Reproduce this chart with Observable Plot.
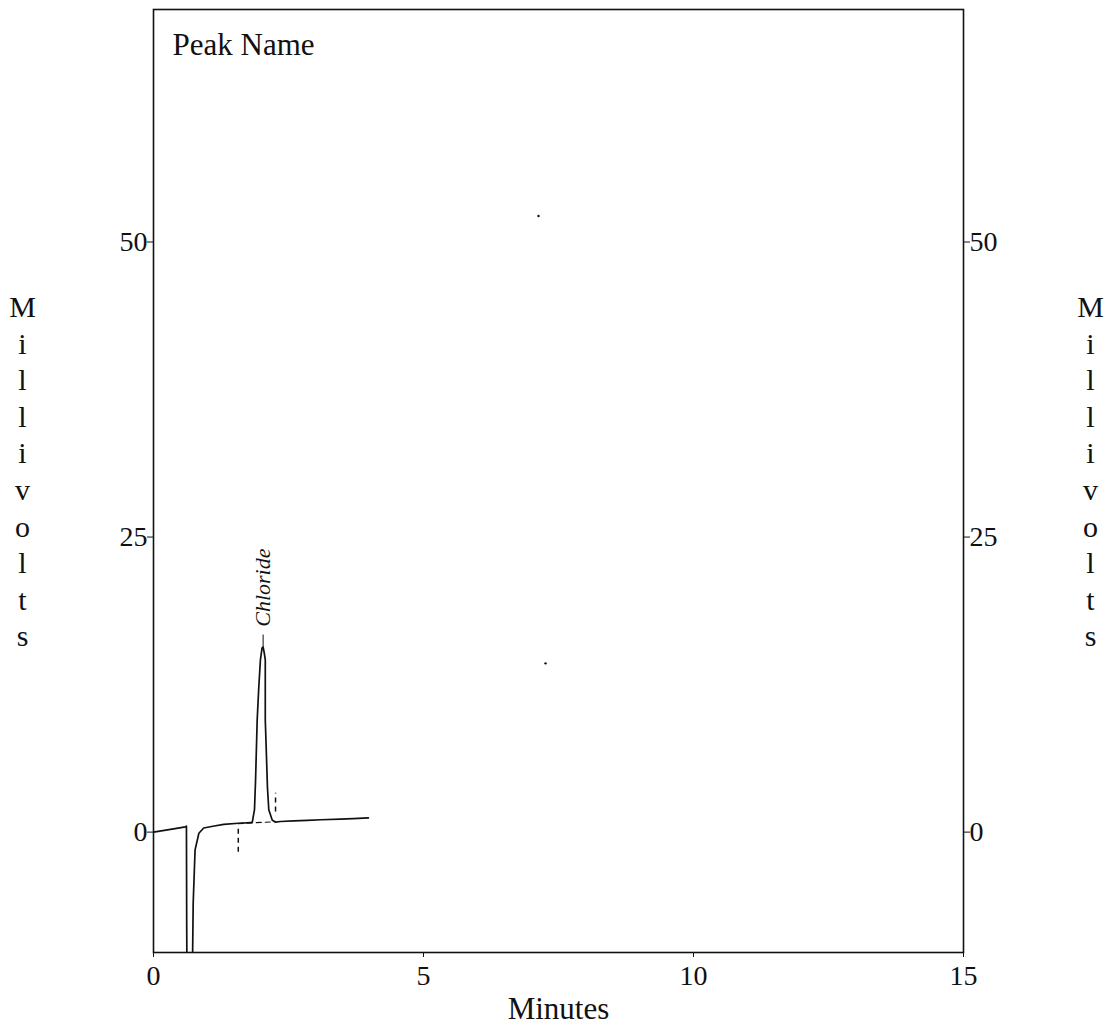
<!DOCTYPE html>
<html>
<head>
<meta charset="utf-8">
<script src="https://cdn.jsdelivr.net/npm/d3@7"></script>
<script src="https://cdn.jsdelivr.net/npm/@observablehq/plot@0.6"></script>
<style>
  html, body { margin: 0; padding: 0; background: #fff; }
  #chart svg { display: block; }
</style>
</head>
<body>
<div id="chart"></div>
<script>
// Chromatogram trace (minutes, millivolts)
const time = [0, 0.2, 0.4, 0.59, 0.61, 0.615, 0.64, 0.70, 0.72, 0.735, 0.77, 0.84, 0.93, 1.1, 1.3, 1.57, 1.8, 1.83, 1.87, 1.89, 1.92, 1.95, 1.98, 2.01, 2.03, 2.05, 2.07, 2.07, 2.09, 2.11, 2.135, 2.2, 2.26, 2.35, 2.6, 2.85, 3.1, 3.46, 3.7, 3.98];
const millivolts = [0, 0.15, 0.3, 0.45, 0.5, -8, -30, -30, -12, -6, -1.5, -0.1, 0.35, 0.5, 0.65, 0.75, 0.8, 0.85, 1.9, 4.4, 9.5, 12.3, 14.6, 15.6, 15.7, 15.2, 14.6, 9.5, 6.7, 3.8, 1.9, 1.0, 0.85, 0.9, 0.95, 1.0, 1.05, 1.1, 1.15, 1.2];

// Peak annotation
const peakNames = ["Chloride"];
const peakTimes = [2.03];
const peakTops = [15.7];
const peakLabelY = [17.4];

// Integration baseline markers
const markerTimes = [1.57, 2.26];
const markerLow = [-1.7, 1.7];
const markerHigh = [0.5, 3.3];
const baselineT = [1.57, 2.26];
const baselineV = [0.72, 0.88];

// Stray specks in the scan
const speckT = [7.13, 7.26];
const speckV = [52.2, 14.3];

// Ticks
const xTicks = [0, 5, 10, 15];
const yTicks = [0, 25, 50];

const trace = time.map((t, i) => ({t, v: millivolts[i]}));
const peaks = peakNames.map((n, i) => ({name: n, t: peakTimes[i], top: peakTops[i], ly: peakLabelY[i]}));
const markers = markerTimes.map((t, i) => ({t, lo: markerLow[i], hi: markerHigh[i]}));
const baseline = baselineT.map((t, i) => ({t, v: baselineV[i]}));
const specks = speckT.map((t, i) => ({t, v: speckV[i]}));

const serif = "'Liberation Serif', 'Times New Roman', serif";
const ink = "#111";

const chart = Plot.plot({
  width: 1113,
  height: 1026,
  marginLeft: 153,
  marginRight: 150,
  marginTop: 9,
  marginBottom: 74,
  style: {fontFamily: serif, color: ink, background: "#fff"},
  x: {domain: [0, 15]},
  y: {domain: [-10.2, 69.7]},
  marks: [
    Plot.frame({stroke: ink, strokeWidth: 1.6}),
    Plot.axisX({ticks: xTicks, anchor: "bottom", tickSize: 5, tickPadding: 8, fontSize: 28, label: null, stroke: ink}),
    Plot.axisY({ticks: yTicks, anchor: "left", tickSize: 6, tickPadding: 0, fontSize: 28, label: null, stroke: ink}),
    Plot.axisY({ticks: yTicks, anchor: "right", tickSize: 6, tickPadding: 0, fontSize: 28, label: null, stroke: ink}),
    Plot.line(baseline, {x: "t", y: "v", stroke: ink, strokeWidth: 1.2, strokeDasharray: "5,4"}),
    Plot.ruleX(markers, {x: "t", y1: "lo", y2: "hi", stroke: ink, strokeWidth: 1.5, strokeDasharray: "5,4"}),
    Plot.line(trace, {x: "t", y: "v", stroke: ink, strokeWidth: 1.7, clip: true}),
    Plot.ruleX(peaks, {x: "t", y1: "top", y2: d => d.top + 1, stroke: ink, strokeWidth: 1}),
    Plot.text(peaks, {x: "t", y: "ly", text: "name", rotate: -90, textAnchor: "start", lineAnchor: "middle", fontSize: 22, fontStyle: "italic", fill: ink}),
    Plot.dot(specks, {x: "t", y: "v", r: 1.2, fill: ink, stroke: null}),
    Plot.text(["Peak Name"], {frameAnchor: "top-left", textAnchor: "start", lineAnchor: "middle", dx: 19, dy: 36, fontSize: 31, fill: ink}),
    Plot.text(["Minutes"], {frameAnchor: "bottom", lineAnchor: "middle", dy: 57, fontSize: 31, fill: ink}),
    Plot.text(["M\ni\nl\nl\ni\nv\no\nl\nt\ns"], {frameAnchor: "left", textAnchor: "middle", lineAnchor: "middle", dx: -131, dy: -11, lineHeight: 1.22, fontSize: 30, fill: ink}),
    Plot.text(["M\ni\nl\nl\ni\nv\no\nl\nt\ns"], {frameAnchor: "right", textAnchor: "middle", lineAnchor: "middle", dx: 127, dy: -11, lineHeight: 1.22, fontSize: 30, fill: ink})
  ]
});
document.getElementById("chart").appendChild(chart);
</script>
</body>
</html>
